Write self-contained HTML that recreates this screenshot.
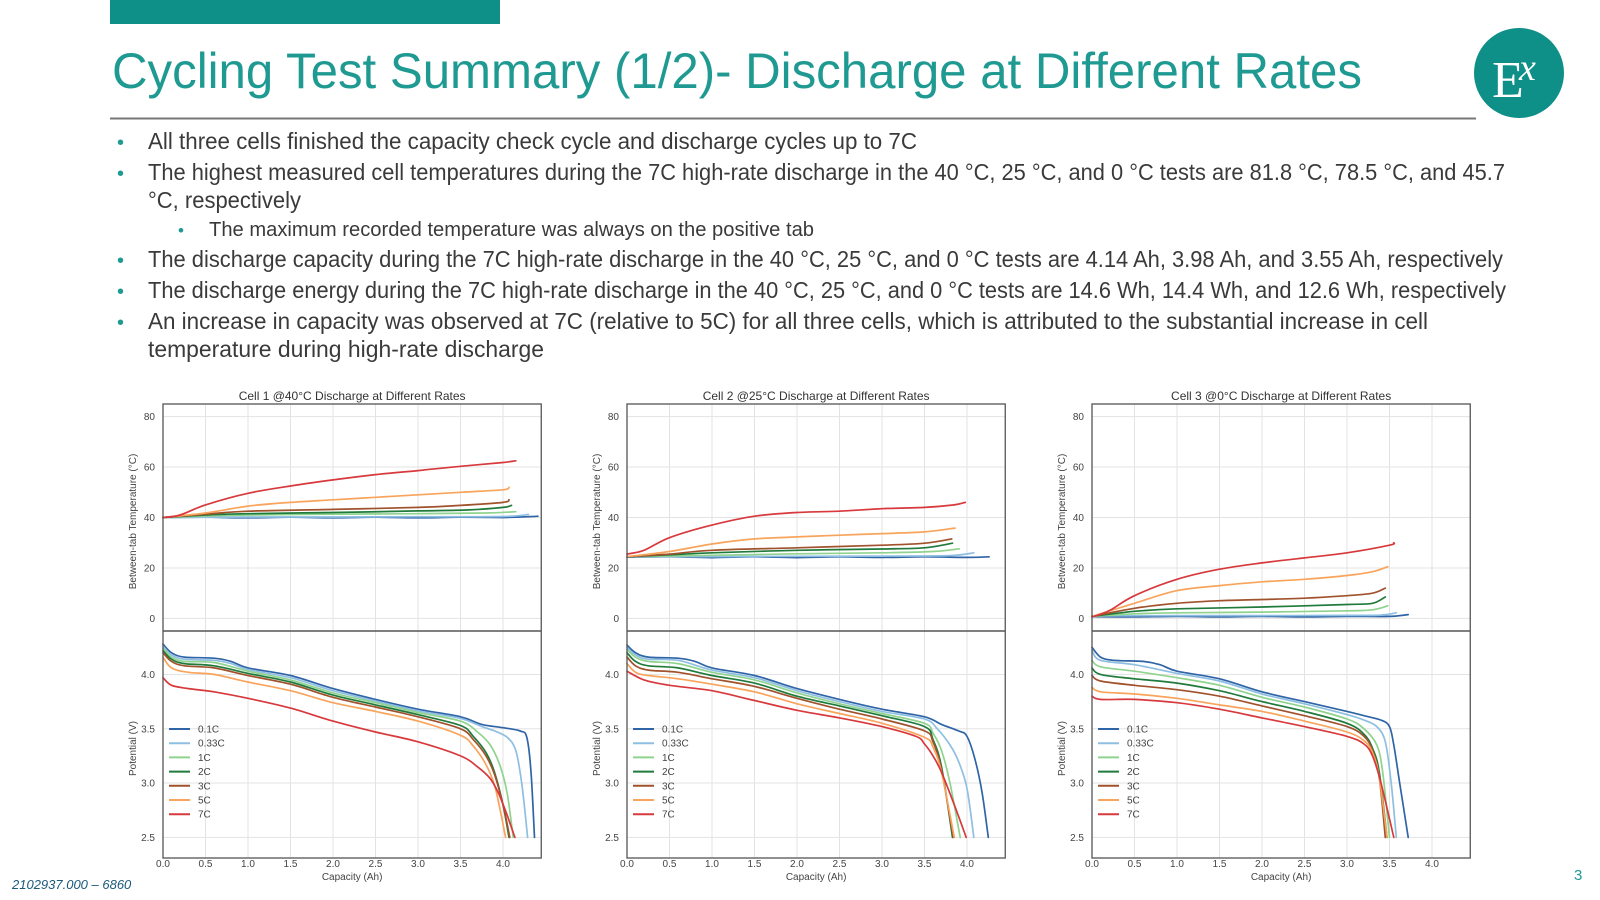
<!DOCTYPE html>
<html><head><meta charset="utf-8"><style>
html,body{margin:0;padding:0;background:#fff;width:1600px;height:900px;overflow:hidden}
svg text{font-family:"Liberation Sans",sans-serif}
</style></head><body>
<svg id="page" width="1600" height="900" viewBox="0 0 1600 900" xmlns="http://www.w3.org/2000/svg">
<rect x="110" y="0" width="390" height="24" fill="#0e8f87"/>
<text x="112" y="88" font-size="50" fill="#1f9a92" textLength="1250" lengthAdjust="spacingAndGlyphs">Cycling Test Summary (1/2)- Discharge at Different Rates</text>
<line x1="110" y1="118.5" x2="1476" y2="118.5" stroke="#777" stroke-width="2"/>
<g>
<circle cx="1519" cy="73" r="45" fill="#0e8f87"/>
<text x="1492" y="97" font-size="52" fill="#fff" style="font-family:'Liberation Serif',serif">E</text>
<text x="1519" y="80" font-size="38" fill="#fff" font-style="italic" style="font-family:'Liberation Serif',serif">x</text>
</g>
<g fill="#3a3a3a" font-size="23">
<text x="117" y="149" fill="#1f9a92" font-size="20">•</text>
<text x="148" y="149" textLength="769" lengthAdjust="spacingAndGlyphs">All three cells finished the capacity check cycle and discharge cycles up to 7C</text>
<text x="117" y="180" fill="#1f9a92" font-size="20">•</text>
<text x="148" y="180" textLength="1357" lengthAdjust="spacingAndGlyphs">The highest measured cell temperatures during the 7C high-rate discharge in the 40 °C, 25 °C, and 0 °C tests are 81.8 °C, 78.5 °C, and 45.7</text>
<text x="148" y="208" textLength="153" lengthAdjust="spacingAndGlyphs">°C, respectively</text>
<text x="178" y="236" fill="#1f9a92" font-size="17">•</text>
<text x="209" y="236" font-size="20" textLength="605" lengthAdjust="spacingAndGlyphs">The maximum recorded temperature was always on the positive tab</text>
<text x="117" y="267" fill="#1f9a92" font-size="20">•</text>
<text x="148" y="267" textLength="1355" lengthAdjust="spacingAndGlyphs">The discharge capacity during the 7C high-rate discharge in the 40 °C, 25 °C, and 0 °C tests are 4.14 Ah, 3.98 Ah, and 3.55 Ah, respectively</text>
<text x="117" y="298" fill="#1f9a92" font-size="20">•</text>
<text x="148" y="298" textLength="1358" lengthAdjust="spacingAndGlyphs">The discharge energy during the 7C high-rate discharge in the 40 °C, 25 °C, and 0 °C tests are 14.6 Wh, 14.4 Wh, and 12.6 Wh, respectively</text>
<text x="117" y="329" fill="#1f9a92" font-size="20">•</text>
<text x="148" y="329" textLength="1280" lengthAdjust="spacingAndGlyphs">An increase in capacity was observed at 7C (relative to 5C) for all three cells, which is attributed to the substantial increase in cell</text>
<text x="148" y="357" textLength="396" lengthAdjust="spacingAndGlyphs">temperature during high-rate discharge</text>
</g>
<text x="12" y="889" font-size="13" font-style="italic" fill="#1a5a7a">2102937.000 – 6860</text>
<text x="1574" y="880" font-size="15" fill="#1f9a92">3</text>
<g id="charts"></g>
</svg>
<script>
const rates = ["0.1C","0.33C","1C","2C","3C","5C","7C"];
const colors = ["#2f64a6","#8ebfe2","#8fd38e","#1f7a3c","#a0522d","#f8a45c","#d7393c"];
const capTicks = [0,0.5,1,1.5,2,2.5,3,3.5,4];
const capTickLabels = ["0.0","0.5","1.0","1.5","2.0","2.5","3.0","3.5","4.0"];
const tempTicks = [0,20,40,60,80];
const voltTicks = [2.5,3.0,3.5,4.0];
const voltTickLabels = ["2.5","3.0","3.5","4.0"];
const chartTitles = ["Cell 1 @40°C Discharge at Different Rates","Cell 2 @25°C Discharge at Different Rates","Cell 3 @0°C Discharge at Different Rates"];

const cell1Volt = [
[[0,4.28],[0.1,4.2],[0.25,4.16],[0.6,4.15],[0.8,4.12],[1.0,4.06],[1.5,3.99],[2.0,3.87],[2.5,3.77],[3.0,3.68],[3.5,3.61],[3.75,3.54],[4.0,3.51],[4.2,3.48],[4.28,3.42],[4.33,3.1],[4.37,2.5]],
[[0,4.26],[0.1,4.18],[0.25,4.14],[0.6,4.13],[0.8,4.1],[1.0,4.045],[1.5,3.97],[2.0,3.85],[2.5,3.755],[3.0,3.665],[3.5,3.595],[3.75,3.52],[3.9,3.48],[4.05,3.42],[4.15,3.3],[4.22,3.0],[4.29,2.5]],
[[0,4.24],[0.1,4.16],[0.25,4.12],[0.6,4.11],[1.0,4.03],[1.5,3.95],[2.0,3.83],[2.5,3.74],[3.0,3.65],[3.5,3.57],[3.7,3.47],[3.85,3.35],[3.97,3.15],[4.05,2.9],[4.12,2.5]],
[[0,4.22],[0.1,4.14],[0.25,4.1],[0.6,4.08],[1.0,4.01],[1.5,3.93],[2.0,3.81],[2.5,3.72],[3.0,3.63],[3.5,3.53],[3.65,3.43],[3.8,3.28],[3.9,3.1],[4.0,2.8],[4.07,2.5]],
[[0,4.2],[0.1,4.12],[0.25,4.08],[0.6,4.06],[1.0,3.99],[1.5,3.91],[2.0,3.79],[2.5,3.7],[3.0,3.61],[3.5,3.5],[3.65,3.4],[3.8,3.25],[3.9,3.08],[4.0,2.8],[4.08,2.5]],
[[0,4.16],[0.1,4.06],[0.3,4.02],[0.6,4.0],[1.0,3.93],[1.5,3.85],[2.0,3.74],[2.5,3.66],[3.0,3.57],[3.5,3.44],[3.65,3.34],[3.8,3.17],[3.9,2.98],[3.98,2.7],[4.03,2.5]],
[[0,3.97],[0.1,3.9],[0.3,3.87],[0.6,3.84],[1.0,3.78],[1.5,3.69],[2.0,3.57],[2.5,3.47],[3.0,3.38],[3.5,3.25],[3.7,3.15],[3.85,3.04],[3.95,2.9],[4.05,2.7],[4.14,2.5]]
];
const cell1Temp = [
[[0,40],[0.5,40.1],[1,39.9],[1.5,40.1],[2,39.9],[2.5,40.1],[3,39.9],[3.5,40.1],[4,40],[4.2,40.2],[4.41,40.5]],
[[0,40],[1,40.2],[2,40.2],[3,40.3],[4,40.4],[4.3,41.2]],
[[0,40],[0.5,40.6],[1,41],[2,41.3],[3,41.5],[3.8,41.8],[4.15,42.3]],
[[0,40],[0.5,41],[1,41.5],[2,42],[3,42.6],[3.6,43],[4,44],[4.1,44.8]],
[[0,40],[0.5,41.3],[1,42.5],[2,43.2],[3,44],[3.5,44.8],[4,46],[4.07,47]],
[[0,40],[0.5,41.8],[1,44.5],[1.5,46],[2,47],[2.5,48],[3,49],[3.5,50],[4,51],[4.07,52]],
[[0,40],[0.2,41],[0.5,45],[1,49.6],[1.5,52.5],[2,54.9],[2.5,57],[3,58.6],[3.5,60.3],[4,61.8],[4.15,62.5]]
];
const cell2Volt = [
[[0,4.27],[0.1,4.2],[0.25,4.16],[0.6,4.15],[0.8,4.12],[1.0,4.06],[1.5,3.99],[2.0,3.87],[2.5,3.77],[3.0,3.68],[3.5,3.61],[3.7,3.54],[3.9,3.48],[4.0,3.43],[4.1,3.2],[4.18,2.9],[4.25,2.5]],
[[0,4.25],[0.1,4.18],[0.25,4.14],[0.6,4.13],[1.0,4.04],[1.5,3.97],[2.0,3.85],[2.5,3.75],[3.0,3.66],[3.5,3.59],[3.65,3.5],[3.8,3.35],[3.9,3.2],[4.0,2.95],[4.08,2.5]],
[[0,4.23],[0.1,4.16],[0.25,4.12],[0.6,4.1],[1.0,4.02],[1.5,3.95],[2.0,3.83],[2.5,3.73],[3.0,3.64],[3.5,3.55],[3.6,3.46],[3.7,3.3],[3.8,3.0],[3.92,2.5]],
[[0,4.2],[0.1,4.12],[0.25,4.08],[0.6,4.06],[1.0,3.99],[1.5,3.92],[2.0,3.8],[2.5,3.71],[3.0,3.62],[3.5,3.52],[3.6,3.4],[3.7,3.15],[3.83,2.5]],
[[0,4.16],[0.1,4.08],[0.25,4.04],[0.6,4.02],[1.0,3.96],[1.5,3.89],[2.0,3.78],[2.5,3.68],[3.0,3.59],[3.5,3.48],[3.6,3.38],[3.7,3.12],[3.84,2.5]],
[[0,4.1],[0.1,4.02],[0.25,3.99],[0.6,3.96],[1.0,3.91],[1.5,3.84],[2.0,3.73],[2.5,3.64],[3.0,3.55],[3.5,3.42],[3.6,3.33],[3.7,3.1],[3.85,2.5]],
[[0,4.03],[0.2,3.95],[0.5,3.9],[1.0,3.85],[1.5,3.76],[2.0,3.67],[2.5,3.6],[3.0,3.52],[3.4,3.43],[3.5,3.36],[3.6,3.25],[3.7,3.1],[3.85,2.8],[3.99,2.5]]
];
const cell2Temp = [
[[0,24.3],[0.5,24.4],[1,24.1],[1.5,24.4],[2,24.1],[2.5,24.4],[3,24.2],[3.5,24.4],[4,24.2],[4.26,24.4]],
[[0,24.5],[1,24.5],[2,24.6],[3,24.7],[3.8,24.9],[4.08,26]],
[[0,24.5],[1,25],[2,25.6],[3,26],[3.6,26.5],[3.91,27.6]],
[[0,24.5],[0.5,25.2],[1,26],[2,27],[3,27.5],[3.5,28],[3.83,29.8]],
[[0,24.5],[0.5,25.5],[1,27],[2,28],[3,29],[3.5,29.8],[3.82,31.5]],
[[0,24.5],[0.5,26.5],[1,29.5],[1.5,31.5],[2,32.3],[2.5,33],[3,33.6],[3.5,34.3],[3.86,35.8]],
[[0,25.5],[0.2,27],[0.5,32],[1,37],[1.5,40.5],[2,42],[2.5,42.5],[3,43.5],[3.5,44],[3.85,45],[3.98,46]]
];
const cell3Volt = [
[[0,4.25],[0.1,4.16],[0.25,4.13],[0.6,4.12],[0.8,4.09],[1.0,4.03],[1.5,3.96],[2.0,3.84],[2.5,3.75],[3.0,3.66],[3.2,3.62],[3.4,3.58],[3.5,3.52],[3.55,3.35],[3.62,3.0],[3.72,2.5]],
[[0,4.22],[0.1,4.13],[0.5,4.09],[1.0,4.01],[1.5,3.94],[2.0,3.82],[2.5,3.73],[3.0,3.63],[3.2,3.58],[3.35,3.52],[3.45,3.38],[3.52,3.0],[3.58,2.5]],
[[0,4.13],[0.1,4.07],[0.5,4.03],[1.0,3.97],[1.5,3.9],[2.0,3.79],[2.5,3.7],[3.0,3.59],[3.2,3.5],[3.35,3.35],[3.42,3.1],[3.5,2.5]],
[[0,4.06],[0.1,4.0],[0.5,3.96],[1.0,3.92],[1.5,3.85],[2.0,3.75],[2.5,3.66],[3.0,3.55],[3.2,3.45],[3.3,3.32],[3.38,3.1],[3.47,2.5]],
[[0,3.99],[0.1,3.94],[0.5,3.9],[1.0,3.86],[1.5,3.8],[2.0,3.71],[2.5,3.62],[3.0,3.52],[3.2,3.43],[3.3,3.3],[3.38,3.05],[3.45,2.5]],
[[0,3.88],[0.1,3.84],[0.5,3.82],[1.0,3.78],[1.5,3.72],[2.0,3.66],[2.5,3.57],[3.0,3.47],[3.2,3.39],[3.3,3.28],[3.38,3.05],[3.47,2.5]],
[[0,3.8],[0.1,3.77],[0.5,3.77],[1.0,3.74],[1.5,3.68],[2.0,3.6],[2.5,3.52],[3.0,3.43],[3.2,3.36],[3.3,3.25],[3.4,3.0],[3.55,2.5]]
];
const cell3Temp = [
[[0,0.7],[0.5,0.6],[1,0.8],[1.5,0.6],[2,0.8],[2.5,0.6],[3,0.8],[3.5,0.8],[3.72,1.5]],
[[0,1],[1,1.1],[2,1.1],[3,1.2],[3.4,1.3],[3.58,2.2]],
[[0,0.8],[0.5,1.8],[1,2.2],[2,2.5],[3,3],[3.3,3.4],[3.48,5]],
[[0,0.8],[0.5,2.8],[1,3.8],[2,4.5],[3,5.5],[3.3,6],[3.45,8.5]],
[[0,0.8],[0.5,4],[1,6],[1.5,7],[2,7.5],[2.5,8],[3,9],[3.3,10],[3.45,12]],
[[0,0.8],[0.5,6],[1,11],[1.5,13],[2,14.5],[2.5,15.5],[3,17],[3.3,18.5],[3.48,20.5]],
[[0,0.5],[0.2,3],[0.5,9],[1,15.5],[1.5,19.5],[2,22],[2.5,24],[3,26],[3.5,29],[3.55,30]]
];
const cellVolts = [cell1Volt, cell2Volt, cell3Volt];
const cellTemps = [cell1Temp, cell2Temp, cell3Temp];
const frameLefts = [163, 627, 1092];

const NS = "http://www.w3.org/2000/svg";
const root = document.getElementById("charts");
function mk(tag, attrs, parent){const e=document.createElementNS(NS,tag);for(const k in attrs)e.setAttribute(k,attrs[k]);parent.appendChild(e);return e;}
function smoothPath(P){
  if(P.length<2) return "";
  let d = "M"+P[0][0].toFixed(1)+","+P[0][1].toFixed(1);
  for(let i=0;i<P.length-1;i++){
    const p0=P[Math.max(0,i-1)], p1=P[i], p2=P[i+1], p3=P[Math.min(P.length-1,i+2)];
    const c1x=p1[0]+(p2[0]-p0[0])/6, c1y=p1[1]+(p2[1]-p0[1])/6;
    const c2x=p2[0]-(p3[0]-p1[0])/6, c2y=p2[1]-(p3[1]-p1[1])/6;
    d += " C"+c1x.toFixed(1)+","+c1y.toFixed(1)+" "+c2x.toFixed(1)+","+c2y.toFixed(1)+" "+p2[0].toFixed(1)+","+p2[1].toFixed(1);
  }
  return d;
}

const PX = 85, XMAX = 4.45, TOP = 404, MID = 631, BOT = 858;
const TMIN = -5, TMAX = 85, VMIN = 2.31, VMAX = 4.40;

frameLefts.forEach((L, ci) => {
  const g = mk("g", {}, root);
  
  
  const R = L + XMAX*PX;
  const xs = c => L + c*PX;
  const yt = t => MID - (t - TMIN)/(TMAX - TMIN)*(MID - TOP);
  const yv = v => BOT - (v - VMIN)/(VMAX - VMIN)*(BOT - MID);
  capTicks.forEach((c,i) => {
    const gl = mk("line",{x1:xs(c),x2:xs(c),y1:TOP,y2:BOT,stroke:"#e3e3e3","stroke-width":1},g);
    
    
    const t = mk("text",{x:xs(c),y:867,"font-size":10,fill:"#444","text-anchor":"middle"},g);
    t.textContent = capTickLabels[i];
    
    
  });
  tempTicks.forEach(tv => {
    const gl = mk("line",{x1:L,x2:R,y1:yt(tv),y2:yt(tv),stroke:"#e3e3e3","stroke-width":1},g);
    
    
    const t = mk("text",{x:L-8,y:yt(tv)+3.5,"font-size":10,fill:"#444","text-anchor":"end"},g);
    t.textContent = String(tv);
    
    
  });
  voltTicks.forEach((vv,i) => {
    const gl = mk("line",{x1:L,x2:R,y1:yv(vv),y2:yv(vv),stroke:"#e3e3e3","stroke-width":1},g);
    
    
    const t = mk("text",{x:L-8,y:yv(vv)+3.5,"font-size":10,fill:"#444","text-anchor":"end"},g);
    t.textContent = voltTickLabels[i];
    
    
  });
  const line = (pts, f, col, name) => {
    const p = mk("path",{d:smoothPath(pts.map(d=>[xs(d[0]),f(d[1])])),fill:"none",stroke:col,"stroke-width":1.7,"stroke-linejoin":"round","stroke-linecap":"round"},g);
    
    
  };
  cellTemps[ci].forEach((s,i) => line(s, yt, colors[i], 'temp-line-' + rates[i]));
  cellVolts[ci].forEach((s,i) => line(s, yv, colors[i], 'volt-line-' + rates[i]));
  const f1 = mk("rect",{x:L,y:TOP,width:R-L,height:BOT-TOP,fill:"none",stroke:"#555","stroke-width":1.3},g);
  
  
  const dv = mk("line",{x1:L,x2:R,y1:MID,y2:MID,stroke:"#555","stroke-width":1.5},g);
  
  
  const tt = mk("text",{x:(L+R)/2,y:400,"font-size":12,fill:"#333","text-anchor":"middle"},g);
  tt.textContent = chartTitles[ci];
  
  
  const xt = mk("text",{x:(L+R)/2,y:880,"font-size":10,fill:"#444","text-anchor":"middle"},g);
  xt.textContent = "Capacity (Ah)";
  
  
  const ty = mk("text",{x:0,y:0,"font-size":10,fill:"#444","text-anchor":"middle",transform:`translate(${L-27},${(TOP+MID)/2+4}) rotate(-90)`},g);
  ty.textContent = "Between-tab Temperature (°C)";
  
  
  const vy = mk("text",{x:0,y:0,"font-size":10,fill:"#444","text-anchor":"middle",transform:`translate(${L-27},${(MID+BOT)/2+4}) rotate(-90)`},g);
  vy.textContent = "Potential (V)";
  
  
  rates.forEach((r,i) => {
    const y = 729 + i*14.2;
    const ll = mk("line",{x1:L+6,x2:L+27,y1:y,y2:y,stroke:colors[i],"stroke-width":2},g);
    
    
    const lt = mk("text",{x:L+35,y:y+3.5,"font-size":10,fill:"#444"},g);
    lt.textContent = r;
    
    
  });
});
</script>
</body></html>
